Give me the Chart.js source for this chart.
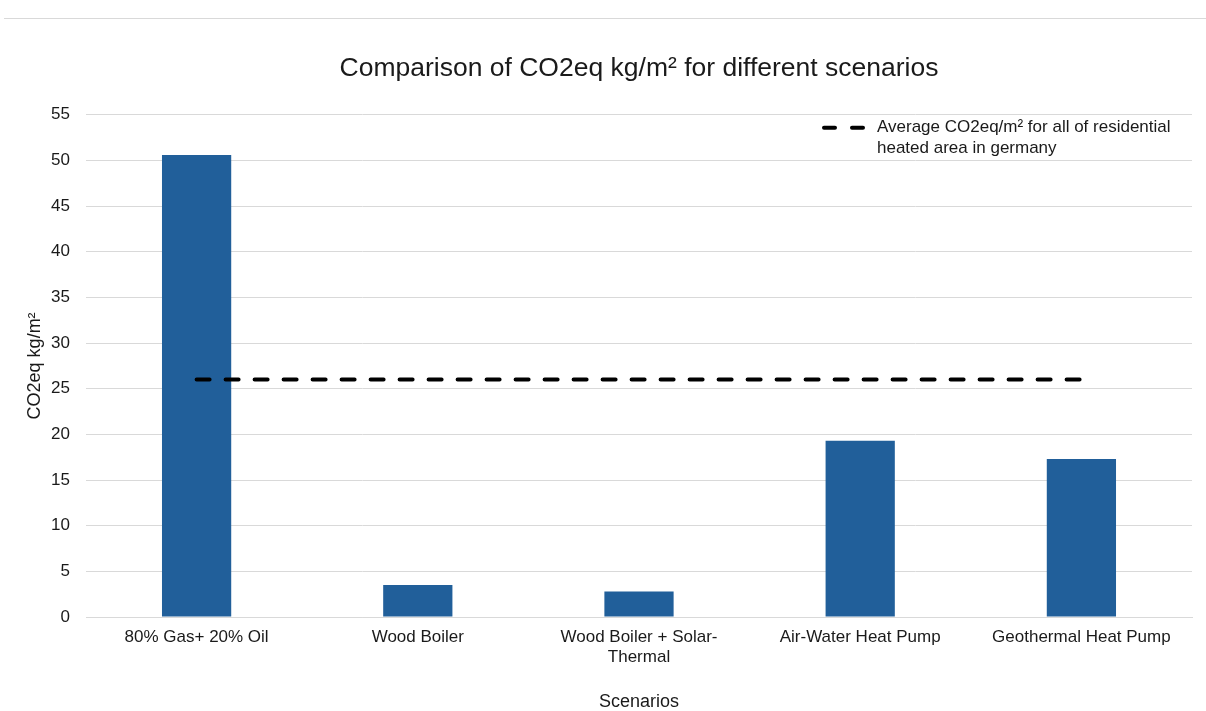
<!DOCTYPE html>
<html>
<head>
<meta charset="utf-8">
<script src="https://cdn.jsdelivr.net/npm/chart.js@4/dist/chart.umd.min.js"></script>
<style>
  html, body { margin: 0; padding: 0; background: #ffffff; }
  #wrap { position: relative; width: 1206px; height: 711px; }
  #rule { position: absolute; left: 4px; right: 0; top: 18px; height: 1px; background: #d9d9d9; }
  canvas { position: absolute; left: 0; top: 0; }
</style>
</head>
<body>
<div id="wrap">
  <div id="rule"></div>
  <canvas id="chart" width="1206" height="711"></canvas>
</div>
<script>
// Scenario categories (multi-line labels as arrays)
const scenarios = [
  "80% Gas+ 20% Oil",
  "Wood Boiler",
  ["Wood Boiler + Solar-", "Thermal"],
  "Air-Water Heat Pump",
  "Geothermal Heat Pump"
];

// CO2eq per square metre for each scenario
const co2PerScenario = [50.6, 3.5, 2.8, 19.3, 17.3];

// German residential average, shown as a reference line across all scenarios
const germanAverage = [26, 26, 26, 26, 26];

const averageLabel = ["Average CO2eq/m\u00B2 for all of residential", "heated area in germany"];

const yTicks = { min: 0, max: 55, step: 5 };

const FONT = "'Liberation Sans', Arial, sans-serif";
const TEXT = "#1a1a1a";
const GRID = "#d9d9d9";
const BAR = "#215f9a";

// In-plot legend for the reference line, drawn at the top right of the chart area
const insideLegend = {
  id: "insideLegend",
  afterDraw(chart) {
    const { ctx, chartArea } = chart;
    const ds = chart.data.datasets[1];
    const x0 = chartArea.right - 370;
    const y0 = chartArea.top + 13;
    ctx.save();
    ctx.strokeStyle = ds.borderColor;
    ctx.lineWidth = ds.borderWidth;
    ctx.lineCap = "round";
    ctx.setLineDash([11, 17]);
    ctx.beginPath();
    ctx.moveTo(x0 + 2, y0);
    ctx.lineTo(x0 + 44, y0);
    ctx.stroke();
    ctx.setLineDash([]);
    ctx.fillStyle = TEXT;
    ctx.font = "17px " + FONT;
    ctx.textBaseline = "middle";
    ctx.textAlign = "left";
    const lines = Array.isArray(ds.label) ? ds.label : [ds.label];
    lines.forEach((t, i) => ctx.fillText(t, x0 + 55, y0 + i * 21));
    ctx.restore();
  }
};

new Chart(document.getElementById("chart"), {
  data: {
    labels: scenarios,
    datasets: [
      {
        type: "bar",
        label: "CO2eq kg/m\u00B2",
        data: co2PerScenario,
        backgroundColor: BAR,
        borderWidth: 0,
        categoryPercentage: 1,
        barPercentage: 0.313,
        order: 1
      },
      {
        type: "line",
        label: averageLabel,
        data: germanAverage,
        borderColor: "#000000",
        borderWidth: 4,
        borderDash: [13, 16],
        borderCapStyle: "round",
        pointRadius: 0,
        pointHoverRadius: 0,
        fill: false,
        tension: 0,
        order: 0
      }
    ]
  },
  options: {
    responsive: false,
    animation: false,
    events: [],
    layout: { padding: { left: 0, right: 14, top: 0, bottom: 0 } },
    plugins: {
      legend: { display: false },
      tooltip: { enabled: false },
      title: {
        display: true,
        fullSize: false,
        text: "Comparison of CO2eq kg/m\u00B2 for different scenarios",
        color: TEXT,
        font: { family: FONT, size: 26.5, weight: "normal", lineHeight: 1.2 },
        padding: { top: 53, bottom: 30 }
      }
    },
    scales: {
      x: {
        grid: { display: false, drawTicks: false },
        border: { display: true, color: GRID, width: 1 },
        ticks: {
          color: TEXT,
          font: { family: FONT, size: 17, lineHeight: 1.2 },
          padding: 10,
          maxRotation: 0,
          autoSkip: false
        },
        title: {
          display: true,
          text: "Scenarios",
          color: TEXT,
          font: { family: FONT, size: 18, lineHeight: 1.0 },
          padding: { top: 0, bottom: 0 }
        },
        afterFit(scale) { scale.height = 94; }
      },
      y: {
        min: yTicks.min,
        max: yTicks.max,
        grid: { color: GRID, lineWidth: 1, drawTicks: false },
        border: { display: false },
        ticks: {
          stepSize: yTicks.step,
          color: TEXT,
          font: { family: FONT, size: 17 },
          padding: 16
        },
        title: {
          display: true,
          text: "CO2eq kg/m\u00B2",
          color: TEXT,
          font: { family: FONT, size: 18, lineHeight: 1.2 },
          padding: { top: 24, bottom: 0 }
        },
        afterFit(scale) { scale.width = 86; }
      }
    }
  },
  plugins: [insideLegend]
});
</script>
</body>
</html>
